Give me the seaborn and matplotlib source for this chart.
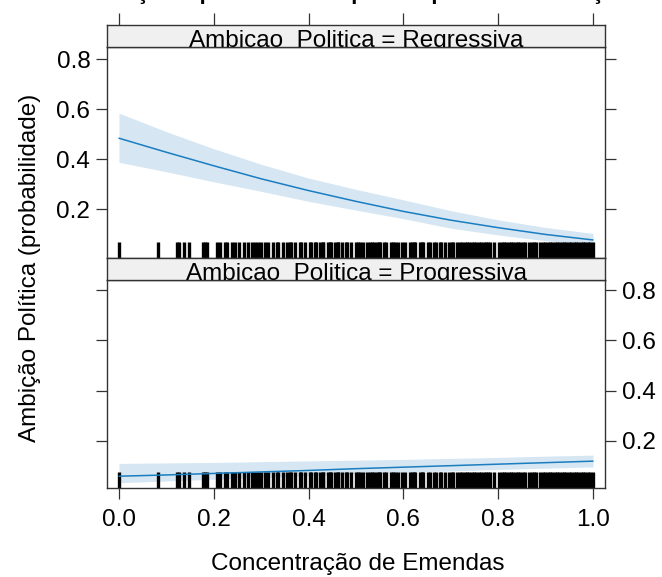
import numpy as np
import pandas as pd
import matplotlib
matplotlib.use("Agg")
import matplotlib.pyplot as plt
import seaborn as sns

sns.set_style("white")
plt.rcParams["font.family"] = ["Liberation Sans", "DejaVu Sans"]

# ---- data ----
conc = [0.0, 0.1, 0.2, 0.3, 0.4, 0.5, 0.6, 0.7, 0.8, 0.9, 1.0]
reg_fit = [0.484, 0.428, 0.374, 0.322, 0.275, 0.232, 0.192, 0.157, 0.127, 0.100, 0.078]
reg_up = [0.584, 0.510, 0.442, 0.380, 0.325, 0.280, 0.238, 0.195, 0.158, 0.128, 0.104]
reg_lo = [0.388, 0.350, 0.310, 0.272, 0.232, 0.197, 0.163, 0.125, 0.098, 0.075, 0.057]
prog_fit = [0.059, 0.064, 0.070, 0.076, 0.082, 0.089, 0.095, 0.101, 0.107, 0.113, 0.119]
prog_up = [0.110, 0.112, 0.114, 0.117, 0.120, 0.123, 0.126, 0.130, 0.134, 0.139, 0.143]
prog_lo = [0.033, 0.040, 0.047, 0.054, 0.061, 0.068, 0.075, 0.080, 0.086, 0.091, 0.096]

rug_values = [
    0.000, 0.082, 0.122, 0.127, 0.137, 0.148, 0.177, 0.181, 0.186, 0.207, 0.213,
    0.224, 0.227, 0.239, 0.244, 0.254, 0.263, 0.272, 0.280, 0.287, 0.294, 0.300,
    0.308, 0.315, 0.324, 0.334, 0.336, 0.345, 0.355, 0.360, 0.363, 0.372, 0.381,
    0.384, 0.393, 0.402, 0.405, 0.414, 0.416, 0.425, 0.430, 0.431, 0.440, 0.445,
    0.447, 0.456, 0.461, 0.462, 0.470, 0.478, 0.481, 0.490, 0.499, 0.504, 0.509,
    0.514, 0.524, 0.529, 0.534, 0.539, 0.544, 0.549, 0.551, 0.560, 0.564, 0.573,
    0.578, 0.583, 0.588, 0.598, 0.603, 0.613, 0.618, 0.623, 0.625, 0.634, 0.639,
    0.642, 0.651, 0.656, 0.665, 0.669, 0.678, 0.680, 0.688, 0.697, 0.702, 0.705,
    0.714, 0.719, 0.724, 0.729, 0.734, 0.739, 0.744, 0.749, 0.754, 0.759, 0.764,
    0.769, 0.774, 0.779, 0.783, 0.792, 0.802, 0.807, 0.812, 0.817, 0.822, 0.827,
    0.832, 0.837, 0.842, 0.847, 0.852, 0.857, 0.866, 0.871, 0.876, 0.880, 0.889,
    0.894, 0.899, 0.904, 0.909, 0.914, 0.919, 0.924, 0.929, 0.934, 0.939, 0.944,
    0.949, 0.954, 0.959, 0.964, 0.969, 0.974, 0.979, 0.984, 0.989, 0.994, 1.000,
]

x_ticks = [0.0, 0.2, 0.4, 0.6, 0.8, 1.0]
y_ticks = [0.2, 0.4, 0.6, 0.8]
panel_titles = ["Ambicao_Politica = Regressiva", "Ambicao_Politica = Progressiva"]
title = "Ambição e probabilidade predita pela Concentração"
xlabel = "Concentração de Emendas"
ylabel = "Ambição Política (probabilidade)"

line_col = "#1A7DC0"
band_col = "#D6E7F3"
frame_col = "#333333"

W, H = 662, 577
fig = plt.figure(figsize=(W / 100, H / 100), dpi=100)

def fr(x0, y0, x1, y1):
    return [x0 / W, 1 - y1 / H, (x1 - x0) / W, (y1 - y0) / H]

ax_top = fig.add_axes(fr(107, 47, 605, 258))
ax_bot = fig.add_axes(fr(107, 280, 605, 488))
st_top = fig.add_axes(fr(107, 25, 605, 47))
st_bot = fig.add_axes(fr(107, 258, 605, 280))

df_top = pd.DataFrame({"x": conc, "y": reg_fit})
df_bot = pd.DataFrame({"x": conc, "y": prog_fit})
df_rug = pd.DataFrame({"x": rug_values})

for ax, df, lo, up, ylim in [
    (ax_top, df_top, reg_lo, reg_up, (0.006, 0.848)),
    (ax_bot, df_bot, prog_lo, prog_up, (0.012, 0.841)),
]:
    ax.fill_between(conc, lo, up, color=band_col, lw=0, zorder=1)
    sns.lineplot(data=df, x="x", y="y", ax=ax, color=line_col, lw=1.1, zorder=3)
    sns.rugplot(data=df_rug, x="x", ax=ax, height=0.075, color="black",
                linewidth=2.4, alpha=1, expand_margins=False, zorder=2)
    ax.set_xlim(-0.0253, 1.0253)
    ax.set_ylim(*ylim)
    ax.set_xlabel("")
    ax.set_ylabel("")
    ax.set_xticks(x_ticks)
    ax.set_yticks(y_ticks)
    ax.set_yticklabels([f"{v:.1f}" for v in y_ticks])
    for s in ax.spines.values():
        s.set_color(frame_col)
        s.set_linewidth(1.0)
        s.set_visible(True)

ax_top.tick_params(axis="both", direction="out", length=8, width=0.9,
                   color=frame_col, labelsize=17.5, pad=4, labelcolor="black",
                   left=True, right=True, top=False, bottom=False,
                   labelleft=True, labelright=False, labelbottom=False)
ax_bot.tick_params(axis="both", direction="out", length=8, width=0.9,
                   color=frame_col, labelsize=17.5, pad=4, labelcolor="black",
                   left=True, right=True, top=False, bottom=True,
                   labelleft=False, labelright=True, labelbottom=True)
ax_bot.tick_params(axis="x", pad=7)

for st, txt in [(st_top, panel_titles[0]), (st_bot, panel_titles[1])]:
    st.set_facecolor("#F0F0F0")
    st.set_xlim(-0.0253, 1.0253)
    st.set_ylim(0, 1)
    st.set_yticks([])
    st.set_xticks(x_ticks)
    st.tick_params(axis="x", bottom=False, labelbottom=False)
    for s in st.spines.values():
        s.set_color(frame_col)
        s.set_linewidth(1.0)
        s.set_visible(True)
    st.text(0.5, -0.02, txt, transform=st.transAxes, ha="center",
            va="baseline", fontsize=17.5, color="black", clip_on=True)

st_top.tick_params(axis="x", top=True, labeltop=False, direction="out",
                   length=9, width=0.9, color=frame_col)

fig.text(356 / W, 1 + 0.5 / H, title, ha="center", va="baseline",
         fontsize=16, fontweight="bold", color="black")
fig.text(358 / W, 1 - 570 / H, xlabel, ha="center", va="baseline",
         fontsize=17.5, color="black")
fig.text(30 / W, 1 - 268 / H, ylabel, ha="center", va="center",
         rotation=90, fontsize=17.5, color="black")

fig.savefig("out.png", dpi=100)
